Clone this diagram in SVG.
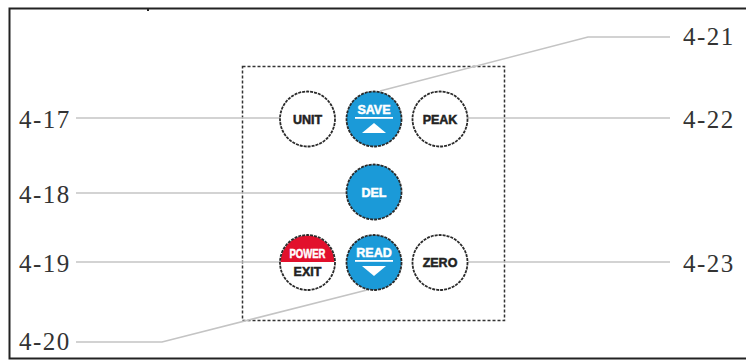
<svg xmlns="http://www.w3.org/2000/svg" width="746" height="362" viewBox="0 0 746 362">
<style>
.lbl{font-family:"Liberation Serif","Times New Roman",serif;font-size:25px;fill:#333;letter-spacing:1.5px}
.ld{fill:none;stroke:#c4c4c4;stroke-width:1.6}
.btn{stroke:#2a2a2a;stroke-width:1.8;stroke-dasharray:3 1}
.w{fill:#fff}
.bl{fill:#1b9ad8}
.bt{font-family:"Liberation Sans",Arial,sans-serif;font-weight:bold;font-size:12.5px;text-anchor:middle;stroke-width:0.5px}
.dk{fill:#222;stroke:#222}
.wt{fill:#fff;stroke:#fff}
</style>
<rect width="746" height="362" fill="#fff"/>
<path d="M746,8.5 H9.5 V358.5 H746" fill="none" stroke="#222" stroke-width="2"/>
<rect x="147" y="8" width="2" height="3" fill="#222"/>
<rect x="242.5" y="66.5" width="262" height="254" fill="none" stroke="#333" stroke-width="1.5" stroke-dasharray="3 2"/>
<g id="connectors">
<path class="ld" d="M76,118 H280"/>
<path class="ld" d="M76,193 H347"/>
<path class="ld" d="M76,262 H280"/>
<path class="ld" d="M76,342 H162 L367,290"/>
<path class="ld" d="M670,37 H588 L380,91"/>
<path class="ld" d="M468,118 H670"/>
<path class="ld" d="M468,262 H670"/>
</g>
<g id="labels">
<text class="lbl" x="19" y="128">4-17</text>
<text class="lbl" x="19" y="203">4-18</text>
<text class="lbl" x="19" y="272">4-19</text>
<text class="lbl" x="19" y="350">4-20</text>
<text class="lbl" x="683" y="45">4-21</text>
<text class="lbl" x="683" y="128">4-22</text>
<text class="lbl" x="683" y="272">4-23</text>
</g>
<g id="unit">
<circle class="btn w" cx="307.5" cy="119" r="27.5"/>
<text class="bt dk" x="307.5" y="123.5">UNIT</text>
</g>
<g id="save">
<circle class="btn bl" cx="374" cy="119" r="27.5"/>
<text class="bt wt" x="374" y="114">SAVE</text>
<rect x="355" y="117" width="38" height="1.8" fill="#fff"/>
<polygon points="362,133 386,133 374,123" fill="#fff"/>
</g>
<g id="peak">
<circle class="btn w" cx="440" cy="119" r="27.5"/>
<text class="bt dk" x="440" y="123.5">PEAK</text>
</g>
<g id="del">
<circle class="btn bl" cx="374" cy="192" r="27.5"/>
<text class="bt wt" x="374" y="197" font-size="13">DEL</text>
</g>
<g id="power">
<clipPath id="pc"><rect x="278" y="232" width="60" height="30"/></clipPath>
<circle cx="307.5" cy="262.5" r="27.5" fill="#fff"/>
<circle cx="307.5" cy="262.5" r="27" fill="#e2102c" clip-path="url(#pc)"/>
<circle class="btn" cx="307.5" cy="262.5" r="27.5" fill="none"/>
<text class="bt wt" x="307.5" y="258" font-size="10.5" textLength="36" lengthAdjust="spacingAndGlyphs">POWER</text>
<text class="bt dk" x="307.5" y="276">EXIT</text>
</g>
<g id="read">
<circle class="btn bl" cx="374" cy="262.5" r="27.5"/>
<text class="bt wt" x="374" y="257">READ</text>
<rect x="355" y="260" width="38" height="1.8" fill="#fff"/>
<polygon points="362,266 386,266 374,276" fill="#fff"/>
</g>
<g id="zero">
<circle class="btn w" cx="440" cy="262.5" r="27.5"/>
<text class="bt dk" x="440" y="267">ZERO</text>
</g>
</svg>
